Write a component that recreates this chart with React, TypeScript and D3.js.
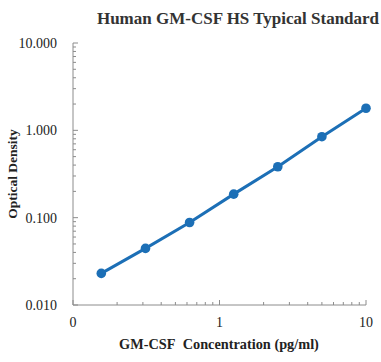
import * as d3 from 'd3';

const concentrations = [0.156, 0.3125, 0.625, 1.25, 2.5, 5, 10];
const densities = [0.023, 0.0445, 0.088, 0.186, 0.383, 0.845, 1.79];
const yTickValues = [0.01, 0.1, 1, 10];
const xTickValues = [0.1, 1, 10];
const xTickLabels = ['0', '1', '10'];

const width = 381;
const height = 362;
const margin = { top: 43, right: 15, bottom: 57, left: 73 };
const color = '#1c6fb6';
const axisColor = '#8c8c8c';
const font = '"Liberation Serif", "Times New Roman", serif';

export default function App() {
  const x = d3.scaleLog().domain([0.1, 10]).range([margin.left, width - margin.right]);
  const y = d3.scaleLog().domain([0.01, 10]).range([height - margin.bottom, margin.top]);

  const points = concentrations.map((c, i) => ({ c, d: densities[i] }));
  const line = d3
    .line<{ c: number; d: number }>()
    .x((p) => x(p.c))
    .y((p) => y(p.d));

  // minor ticks per decade
  const minorX: number[] = [];
  const minorY: number[] = [];
  for (const base of [0.1, 1]) for (let k = 2; k <= 9; k++) minorX.push(base * k);
  for (const base of [0.01, 0.1, 1]) for (let k = 2; k <= 9; k++) minorY.push(base * k);

  const x0 = margin.left;
  const y0 = height - margin.bottom;

  return (
    <svg
      width={width}
      height={height}
      style={{ position: 'absolute', left: 0, top: 0, background: '#fff' }}
      fontFamily={font}
    >
      <text x={238} y={24} textAnchor="middle" fontSize={17} fontWeight="bold" fill="#333">
        Human GM-CSF HS Typical Standard
      </text>

      {/* axes */}
      <line x1={x0} x2={x0} y1={margin.top} y2={y0} stroke={axisColor} />
      <line x1={x0} x2={width - margin.right} y1={y0} y2={y0} stroke={axisColor} />

      {minorY.map((v) => (
        <line key={'my' + v} x1={x0} x2={x0 + 3} y1={y(v)} y2={y(v)} stroke={axisColor} />
      ))}
      {yTickValues.map((v) => (
        <g key={'y' + v}>
          <line x1={x0} x2={x0 + 5} y1={y(v)} y2={y(v)} stroke={axisColor} />
          <text x={57} y={y(v)} dy="0.35em" textAnchor="end" fontSize={14} fill="#222">
            {d3.format('.3f')(v)}
          </text>
        </g>
      ))}

      {minorX.map((v) => (
        <line key={'mx' + v} x1={x(v)} x2={x(v)} y1={y0} y2={y0 - 3} stroke={axisColor} />
      ))}
      {xTickValues.map((v, i) => (
        <g key={'x' + v}>
          <line x1={x(v)} x2={x(v)} y1={y0} y2={y0 - 5} stroke={axisColor} />
          <text x={x(v)} y={327} textAnchor="middle" fontSize={14} fill="#222">
            {xTickLabels[i]}
          </text>
        </g>
      ))}

      <text x={219} y={349} textAnchor="middle" fontSize={14.3} fontWeight="bold" fill="#222">
        GM-CSF{'\u00a0\u00a0'}Concentration (pg/ml)
      </text>
      <text
        transform={`translate(17,${(margin.top + y0) / 2}) rotate(-90)`}
        textAnchor="middle"
        fontSize={13.5}
        fontWeight="bold"
        fill="#222"
      >
        Optical Density
      </text>

      <path d={line(points) ?? ''} fill="none" stroke={color} strokeWidth={3} />
      {points.map((p) => (
        <circle key={p.c} cx={x(p.c)} cy={y(p.d)} r={4.8} fill={color} />
      ))}
    </svg>
  );
}
